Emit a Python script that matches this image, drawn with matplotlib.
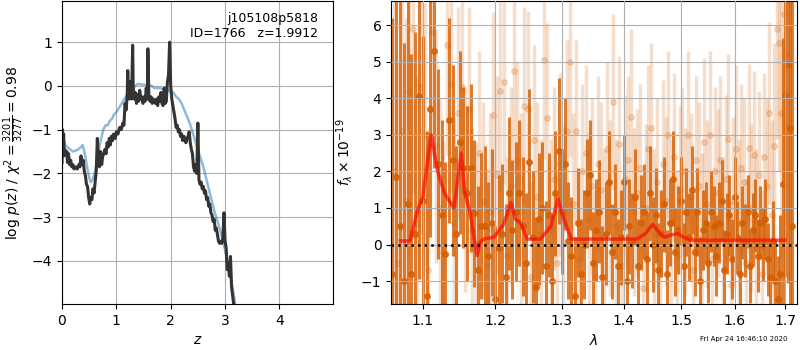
import numpy as np
import matplotlib
matplotlib.use("Agg")
import matplotlib.pyplot as plt
from matplotlib.ticker import NullLocator, NullFormatter

# --- p(z) panel -------------------------------------------------------
z_pz = [0.00, 0.01, 0.02, 0.03, 0.04, 0.05, 0.07, 0.09, 0.10, 0.12,
        0.14, 0.16, 0.18, 0.20, 0.22, 0.25, 0.28, 0.31, 0.33, 0.35,
        0.37, 0.39, 0.41, 0.43, 0.45, 0.47, 0.49, 0.51, 0.53, 0.55,
        0.57, 0.59, 0.61, 0.63, 0.65, 0.67, 0.69, 0.71, 0.73, 0.75,
        0.77, 0.79, 0.81, 0.83, 0.85, 0.87, 0.89, 0.91, 0.93, 0.95,
        0.98, 1.00, 1.03, 1.06, 1.09, 1.12, 1.14, 1.16, 1.18, 1.20,
        1.21, 1.22, 1.24, 1.26, 1.28, 1.30, 1.31, 1.33, 1.35, 1.37,
        1.39, 1.41, 1.43, 1.45, 1.47, 1.49, 1.51, 1.53, 1.55, 1.57,
        1.58, 1.60, 1.62, 1.64, 1.66, 1.68, 1.70, 1.72, 1.74, 1.76,
        1.78, 1.80, 1.82, 1.84, 1.86, 1.88, 1.90, 1.92, 1.94, 1.96,
        1.98, 2.00, 2.02, 2.04, 2.06, 2.08, 2.10, 2.12, 2.14, 2.16,
        2.18, 2.20, 2.22, 2.24, 2.26, 2.28, 2.30, 2.32, 2.34, 2.36,
        2.38, 2.40, 2.42, 2.44, 2.46, 2.48, 2.50, 2.52, 2.54, 2.56,
        2.58, 2.60, 2.62, 2.64, 2.66, 2.68, 2.70, 2.72, 2.74, 2.76,
        2.78, 2.80, 2.82, 2.84, 2.86, 2.88, 2.90, 2.92, 2.94, 2.96,
        2.98, 3.00, 3.02, 3.04, 3.06, 3.08, 3.10, 3.12, 3.14, 3.17,
        3.20]
logp = [-1.75, -1.00, -1.45, -1.10, -1.60, -1.45, -1.55, -1.50, -1.75, -1.55,
        -1.80, -1.70, -1.85, -1.80, -1.90, -1.85, -1.90, -1.80, -1.85, -1.60,
        -1.80, -1.70, -1.95, -2.05, -2.25, -2.30, -2.55, -2.70, -2.55, -2.60,
        -2.35, -2.45, -2.20, -1.95, -1.20, -1.70, -1.85, -1.50, -1.80, -1.60,
        -1.55, -1.45, -1.55, -1.30, -1.40, -1.20, -1.35, -1.15, -1.25, -1.10,
        -1.20, -1.05, -1.10, -0.95, -1.00, -0.85, -0.90, -0.40, -0.55, -0.20,
        0.35, -0.10, -0.30, 0.10, -0.30, 0.93, -0.05, -0.30, -0.15, -0.40,
        -0.20, -0.35, -0.10, -0.30, -0.25, -0.40, -0.25, -0.35, -0.05, -0.30,
        0.85, -0.30, -0.35, -0.25, -0.40, -0.30, -0.35, -0.40, -0.30, -0.45,
        -0.25, -0.35, -0.15, -0.40, -0.45, -0.05, -0.40, -0.35, 0.10, 0.25,
        1.00, 0.00, -0.30, -0.45, -0.60, -0.75, -0.95, -0.90, -1.05, -1.00,
        -1.15, -1.10, -1.25, -1.15, -1.20, -1.30, -1.20, -1.15, -1.05, -1.30,
        -1.45, -1.55, -1.85, -1.95, -1.80, -2.00, -0.85, -2.15, -2.25, -2.20,
        -2.35, -2.30, -2.45, -2.40, -2.60, -2.55, -2.75, -2.70, -2.90, -2.95,
        -3.10, -3.05, -3.30, -3.25, -3.40, -3.55, -3.60, -3.55, -3.60, -3.50,
        -2.90, -3.55, -3.70, -4.20, -4.05, -4.35, -3.90, -4.60, -4.80, -5.10,
        -5.50]

z_prior = [0.00, 0.03, 0.06, 0.10, 0.15, 0.20, 0.25, 0.30, 0.35, 0.38,
           0.42, 0.46, 0.50, 0.53, 0.56, 0.60, 0.64, 0.68, 0.72, 0.76,
           0.80, 0.84, 0.88, 0.92, 0.96, 1.00, 1.05, 1.10, 1.15, 1.20,
           1.25, 1.30, 1.35, 1.40, 1.45, 1.50, 1.55, 1.60, 1.65, 1.70,
           1.75, 1.80, 1.85, 1.90, 1.95, 2.00, 2.05, 2.10, 2.15, 2.20,
           2.25, 2.30, 2.35, 2.40, 2.45, 2.50, 2.55, 2.60, 2.65, 2.70,
           2.75, 2.80, 2.85, 2.90, 2.95, 3.00, 3.05, 3.10, 3.15, 3.20]
logp_prior = [-1.00, -1.20, -1.35, -1.40, -1.45, -1.50, -1.48, -1.45, -1.40, -1.35,
              -1.55, -1.85, -2.10, -2.20, -2.15, -2.00, -1.75, -1.45, -1.20, -1.00,
              -0.90, -0.90, -0.80, -0.75, -0.65, -0.60, -0.50, -0.40, -0.30, -0.20,
              -0.10, -0.05, 0.00, 0.05, 0.03, 0.03, 0.02, 0.02, 0.00, -0.05,
              -0.05, -0.05, -0.07, -0.08, -0.10, -0.12, -0.15, -0.25, -0.30, -0.40,
              -0.55, -0.70, -0.85, -1.05, -1.25, -1.45, -1.65, -1.85, -2.10, -2.35,
              -2.60, -2.85, -3.05, -3.25, -3.50, -3.75, -4.05, -4.35, -4.70, -5.10]

# --- spectrum panel ---------------------------------------------------
LAM0_A, LAM0_B, DLAM = 1.060, 1.0625, 0.005

flux_a = [-0.8, 1.85, 0.5, -1.0, 1.1, -0.8, 0.3, 4.05, 1.2, -1.4,
          3.7, 5.3, 2.2, 0.8, -0.25, 3.4, 2.3, 0.3, 2.8, 2.1,
          1.4, 2.1, 0.85, -0.7, 0.5, 0.5, -0.3, 0.6, -1.5, -0.1,
          0.3, -0.9, 1.4, 0.4, 0.9, 1.4, 0.5, -0.5, 2.25, 0.2,
          -1.15, 0.7, 1.0, -0.6, 0.8, -1.0, 1.4, 2.55, 0.9, 2.2,
          0.1, -0.3, -1.4, 0.6, -0.8, 0.0, 1.4, 1.9, -0.5, 0.4,
          0.9, -0.9, 0.3, 1.7, -0.2, 0.9, -0.6, 0.2, 1.7, -1.0,
          0.5, 0.1, 1.3, -0.6, 0.6, 0.9, -0.4, 1.4, 0.0, 0.8,
          -0.7, 0.3, 1.1, -0.8, 0.6, 1.8, -0.2, 0.4, 1.2, -0.6,
          0.9, 0.2, 1.5, -0.2, 0.9, -1.0, 0.4, 0.6, -0.5, 0.9,
          0.5, -0.3, 0.6, 1.2, -0.7, 0.3, 0.8, -0.4, 1.3, 0.2,
          -0.8, 0.6, 0.1, 0.9, -0.6, 0.4, 0.8, -0.3, 0.6, 0.0,
          0.7, -0.4, -0.9, 0.1, -1.0, -1.5, -0.8, 1.65, 4.1, 4.95,
          3.2, 0.5]
err_a = [7.0, 7.0, 6.5, 6.5, 6.0, 6.0, 5.5, 5.0, 4.5, 4.5,
         3.5, 3.2, 2.6, 2.6, 2.5, 2.8, 2.6, 2.4, 2.5, 2.2,
         2.4, 2.3, 2.0, 2.3, 2.0, 2.2, 2.0, 2.0, 2.0, 2.0,
         1.9, 2.0, 2.1, 1.9, 1.9, 2.0, 1.9, 1.9, 2.0, 1.8,
         1.9, 1.8, 1.8, 1.8, 1.7, 1.8, 1.7, 2.0, 1.7, 1.8,
         1.6, 1.6, 1.6, 1.5, 1.5, 1.5, 1.5, 1.5, 1.4, 1.4,
         1.4, 1.4, 1.4, 1.4, 1.3, 1.3, 1.3, 1.3, 1.3, 1.3,
         1.3, 1.3, 1.3, 1.3, 1.3, 1.3, 1.3, 1.3, 1.3, 1.3,
         1.3, 1.2, 1.3, 1.2, 1.2, 1.3, 1.2, 1.2, 1.2, 1.2,
         1.2, 1.2, 1.2, 1.2, 1.2, 1.2, 1.1, 1.1, 1.1, 1.1,
         1.1, 1.1, 1.1, 1.1, 1.1, 1.1, 1.1, 1.1, 1.1, 1.0,
         1.0, 1.0, 1.0, 1.0, 1.0, 1.0, 1.0, 1.0, 1.0, 1.0,
         1.1, 1.0, 1.0, 1.1, 1.1, 1.2, 1.6, 4.0, 5.0, 6.0,
         7.0, 8.0]

flux_b = [2.0, -0.5, 3.1, 1.2, 4.2, 5.9, 0.6, 4.3, 3.0, -0.7,
          5.8, 2.7, 1.0, -0.2, 5.45, 4.4, 0.6, 3.6, 4.3, 1.5,
          3.7, 0.4, 0.0, 2.5, 1.2, -0.6, 0.9, 3.55, 1.9, 4.2,
          4.45, -0.3, 1.6, 4.75, 2.3, 0.9, 3.8, 3.7, -0.9, 2.85,
          1.3, 0.3, 5.05, 3.45, 0.4, 1.8, -0.5, 2.2, 0.8, 3.1,
          5.0, 1.1, 3.1, -0.4, 2.0, 2.5, 0.7, 1.6, -0.9, 2.2,
          1.5, 0.2, 2.6, 1.0, 3.9, 0.5, 2.75, -0.6, 1.8, 2.3,
          3.5, 0.9, 1.4, 2.1, -1.2, 1.0, 2.6, 3.2, 0.3, 1.7,
          -0.8, 2.2, 1.2, 3.0, 0.6, 2.4, -0.3, 1.5, 2.0, 0.9,
          3.0, 1.3, -0.7, 2.3, 1.6, 0.2, 2.8, 1.1, 3.0, -0.4,
          2.0, 1.4, 2.3, 0.1, 1.8, 2.9, -1.1, 1.2, 2.6, 0.6,
          2.1, 1.7, -0.5, 2.65, 1.0, 2.45, 0.3, 1.9, -0.8, 2.4,
          1.6, 3.6, 0.8, 2.7, 5.9, 5.5, 3.6, 6.3, 5.2]
err_b = [5.5, 5.5, 5.0, 5.0, 4.5, 4.5, 4.0, 4.0, 3.6, 3.6,
         3.4, 3.2, 3.0, 3.0, 3.0, 3.0, 2.9, 2.9, 2.9, 2.8,
         2.8, 2.8, 2.8, 2.8, 2.7, 2.7, 2.7, 2.8, 2.7, 2.8,
         2.8, 2.7, 2.7, 2.8, 2.7, 2.7, 2.7, 2.7, 2.6, 2.6,
         2.6, 2.6, 2.7, 2.6, 2.5, 2.5, 2.5, 2.5, 2.5, 2.5,
         2.6, 2.5, 2.5, 2.4, 2.4, 2.4, 2.4, 2.4, 2.4, 2.4,
         2.4, 2.4, 2.4, 2.4, 2.4, 2.4, 2.4, 2.4, 2.3, 2.3,
         2.4, 2.3, 2.3, 2.3, 2.3, 2.3, 2.3, 2.3, 2.3, 2.3,
         2.3, 2.3, 2.3, 2.3, 2.3, 2.3, 2.3, 2.3, 2.3, 2.3,
         2.3, 2.3, 2.3, 2.3, 2.3, 2.3, 2.3, 2.3, 2.3, 2.3,
         2.3, 2.3, 2.3, 2.3, 2.3, 2.3, 2.3, 2.3, 2.3, 2.3,
         2.3, 2.3, 2.3, 2.3, 2.3, 2.3, 2.3, 2.3, 2.3, 2.3,
         2.4, 2.5, 2.6, 2.8, 3.0, 3.5, 4.0, 4.5, 5.0]

lam_model = [1.071, 1.083, 1.094, 1.100, 1.111, 1.120, 1.129, 1.142, 1.152, 1.157,
             1.164, 1.174, 1.178, 1.183, 1.198, 1.212, 1.223, 1.229, 1.237, 1.247,
             1.267, 1.283, 1.294, 1.303, 1.315, 1.400, 1.423, 1.437, 1.450, 1.463,
             1.471, 1.480, 1.493, 1.505, 1.517, 1.600, 1.700]
flux_model = [0.1, 0.1, 1.0, 1.3, 3.0, 2.0, 1.4, 1.0, 2.5, 1.4,
              0.9, -0.3, 0.05, 0.15, 0.2, 0.55, 1.15, 0.7, 0.6, 0.15,
              0.15, 0.5, 1.25, 0.7, 0.15, 0.15, 0.15, 0.3, 0.55, 0.3,
              0.2, 0.25, 0.3, 0.2, 0.12, 0.12, 0.12]

lam_ticks = [1.1, 1.2, 1.3, 1.4, 1.5, 1.6, 1.7]

lam_a = LAM0_A + DLAM * np.arange(len(flux_a))
lam_b = LAM0_B + DLAM * np.arange(len(flux_b))

orange = (0.835, 0.369, 0.0)

fig = plt.figure(figsize=(8, 3.5), dpi=100)
ax1 = fig.add_axes([0.0775, 0.131, 0.339, 0.866])
ax2 = fig.add_axes([0.489, 0.131, 0.507, 0.866])

# p(z)
ax1.plot(z_prior, logp_prior, color='#1f77b4', alpha=0.5, lw=1.8)
ax1.plot(z_pz, logp, color='0.2', lw=2.2)
ax1.set_xlim(0, 4.99)
ax1.set_ylim(-4.99, 1.94)
ax1.set_xticks([0, 1, 2, 3, 4])
ax1.set_yticks([-4, -3, -2, -1, 0, 1])
ax1.grid(True)
ax1.set_xlabel('$z$')
ax1.set_ylabel(r'$\log\,p(z)$ / $\chi^2=\frac{3201}{3277}=0.98$')
ax1.text(0.945, 0.965, 'j105108p5818\nID=1766   z=1.9912', ha='right', va='top',
         transform=ax1.transAxes, fontsize=9)

# spectrum
ax2.errorbar(lam_b, flux_b, yerr=err_b, fmt='o', color=orange, alpha=0.2,
             markersize=4, elinewidth=2.5, linestyle='none')
ax2.errorbar(lam_a, flux_a, yerr=err_a, fmt='o', color=orange, alpha=0.8,
             markersize=4, elinewidth=2.2, linestyle='none')
ax2.plot(lam_model, flux_model, color='red', alpha=0.65, lw=2.5, zorder=5)
ax2.axhline(0, color='k', linestyle=':', lw=1.8, zorder=6)
ax2.set_xscale('log')
ax2.set_xlim(1.059, 1.724)
ax2.set_ylim(-1.63, 6.66)
ax2.set_xticks(lam_ticks)
ax2.set_xticklabels([str(t) for t in lam_ticks])
ax2.xaxis.set_minor_locator(NullLocator())
ax2.xaxis.set_minor_formatter(NullFormatter())
ax2.set_yticks([-1, 0, 1, 2, 3, 4, 5, 6])
ax2.set_axisbelow(False)
ax2.grid(True)
ax2.set_xlabel(r'$\lambda$')
ax2.set_ylabel(r'$f_\lambda \times 10^{-19}$')

fig.text(0.984, 0.025, 'Fri Apr 24 16:46:10 2020', ha='right', fontsize=5)

fig.savefig('out.png', dpi=100)
